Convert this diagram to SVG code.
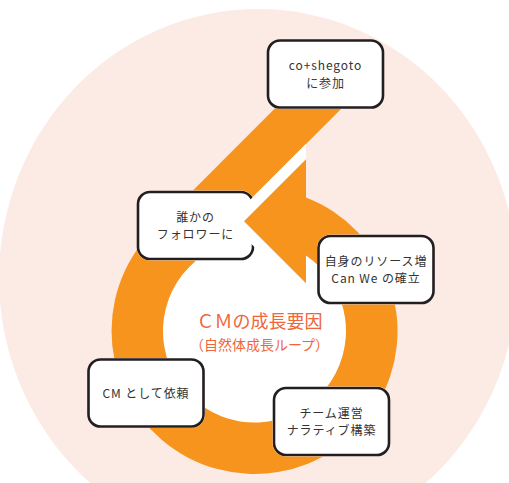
<svg xmlns="http://www.w3.org/2000/svg" width="509" height="483" viewBox="0 0 509 483">
<defs>
<style>
.node rect{fill:#fff;stroke:#231f20;stroke-width:2.6}
.node text{font-family:"Noto Sans CJK JP","Noto Sans",sans-serif;font-size:12px;fill:#333;text-anchor:middle;letter-spacing:0.9px}
.loop{fill:#f7941d}
.halo{fill:#fff}
.title{font-family:"Noto Sans CJK JP","Noto Sans",sans-serif;fill:#f0663a;text-anchor:middle}
</style>
<mask id="nodeMask" maskUnits="userSpaceOnUse" x="0" y="0" width="509" height="483">
<rect width="509" height="483" fill="#fff"/>
<g fill="#000">
<rect x="266.5" y="39" width="118" height="70" rx="13.5"/>
<rect x="136.5" y="190.5" width="118" height="70" rx="13.5"/>
<rect x="317" y="234.5" width="118" height="70" rx="13.5"/>
<rect x="87" y="358" width="118" height="70" rx="13.5"/>
<rect x="272.5" y="386.5" width="118" height="70" rx="13.5"/>
</g>
</mask>
</defs>
<ellipse cx="258" cy="278" rx="259" ry="269" fill="#fcebe5"/>
<g id="loop-interior" fill="#fff">
<circle cx="254.5" cy="331" r="94"/>
<polygon points="306,144 306,331 254.5,331 185,265"/>
</g>
<g id="node-coshegoto" class="node">
<rect x="268" y="40.5" width="115" height="67" rx="12"/>
<text x="325.5" y="70.2">co+shegoto</text>
<text x="325.5" y="87.8">に参加</text>
</g>
<g id="node-follower" class="node">
<rect x="138" y="192" width="115" height="67" rx="12"/>
<text x="195.5" y="221.7">誰かの</text>
<text x="195.5" y="239.3">フォロワーに</text>
</g>
<g id="node-resource" class="node">
<rect x="318.5" y="236" width="115" height="67" rx="12"/>
<text x="376" y="265.7">自身のリソース増</text>
<text x="376" y="283.3">Can We の確立</text>
</g>
<g id="node-cm" class="node">
<rect x="88.5" y="359.5" width="115" height="67" rx="12"/>
<text x="146" y="397.5">CM として依頼</text>
</g>
<g id="node-team" class="node">
<rect x="274" y="388" width="115" height="67" rx="12"/>
<text x="331.5" y="417.7">チーム運営</text>
<text x="331.5" y="435.3">ナラティブ構築</text>
</g>
<g id="connectors">
<g mask="url(#nodeMask)">
<polygon class="loop" points="283.3,100 350,100 190,260 153.4,229.9"/>
<path class="loop" d="M162.6,221.5 A143,143 0 1 0 306,197.6 L306,255.4 A91.5,91.5 0 1 1 195.7,260.9 Z"/>
</g>
<polygon class="halo" points="306,144 228.7,221.3 306,298.6"/>
<polygon class="loop" points="306,159.3 306,283.3 244,221.3"/>
</g>
<g id="center-label" class="title">
<text x="259.5" y="327.5" font-size="18">ＣＭの成長要因</text>
<text x="259.5" y="349.5" font-size="14">（自然体成長ループ）</text>
</g>
</svg>
